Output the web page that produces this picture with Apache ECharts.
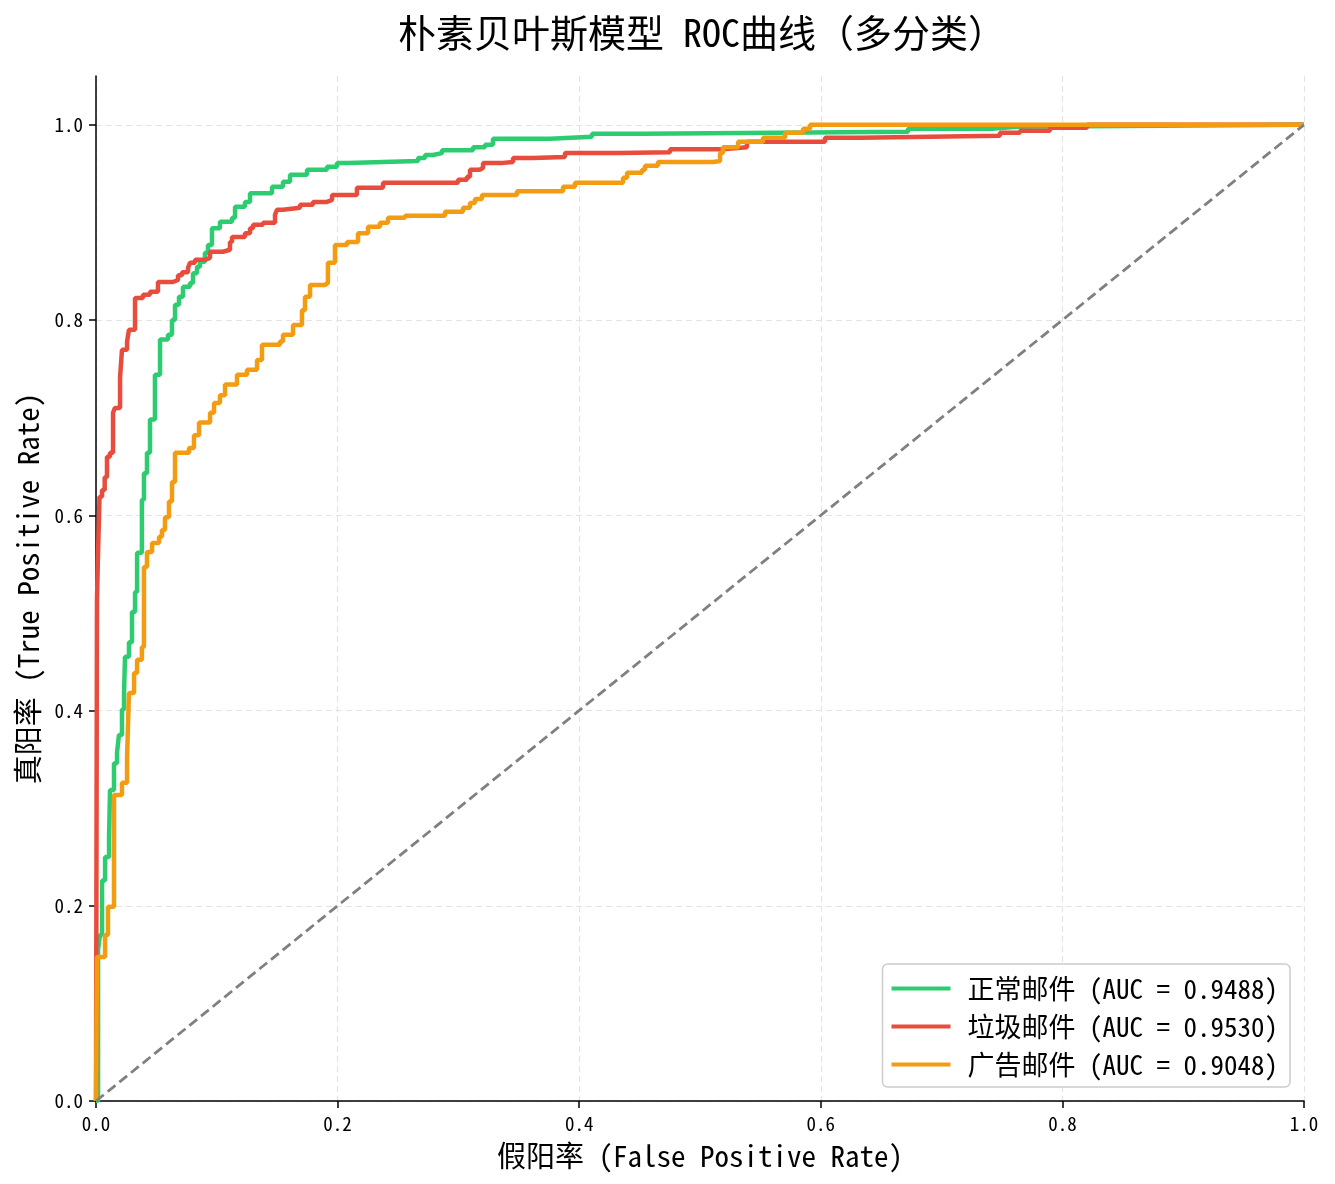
<!DOCTYPE html>
<html>
<head>
<meta charset="utf-8">
<script src="https://cdn.jsdelivr.net/npm/echarts@6/dist/echarts.min.js"></script>
<style>
  html, body { margin: 0; padding: 0; background: #fff; }
  #chart { width: 1335px; height: 1184px; }
</style>
</head>
<body>
<div id="chart"></div>
<script>
var FONT = "'Noto Sans Mono CJK SC', 'Noto Sans CJK SC', sans-serif";

// 各类别名称与 AUC
var classNames = ['正常邮件', '垃圾邮件', '广告邮件'];
var aucValues = [0.9488, 0.9530, 0.9048];
var lineColors = ['#2ecc71', '#e74c3c', '#f39c12'];

// ROC 阶梯点 [fpr, tpr]（在 fpr 处跳到 tpr）
var rocNormal = [
  [0, 0], [0.0017, 0.155], [0.0033, 0.17], [0.005, 0.226], [0.0075, 0.25], [0.0108, 0.27],
  [0.0116, 0.3186], [0.0149, 0.346], [0.0174, 0.357], [0.019, 0.375], [0.0215, 0.401],
  [0.0232, 0.418], [0.024, 0.455], [0.0273, 0.47], [0.0298, 0.501], [0.0323, 0.5215],
  [0.034, 0.5615], [0.038, 0.616], [0.0397, 0.643], [0.0422, 0.664], [0.0447, 0.698],
  [0.0488, 0.744], [0.053, 0.78], [0.0596, 0.785], [0.0629, 0.8], [0.0654, 0.8156],
  [0.0687, 0.8238], [0.072, 0.834], [0.0778, 0.838], [0.0803, 0.848], [0.0836, 0.8545],
  [0.0861, 0.8596], [0.0902, 0.869], [0.0927, 0.877], [0.096, 0.894], [0.1026, 0.9006],
  [0.1126, 0.9047], [0.1151, 0.916], [0.1233, 0.921], [0.1275, 0.93], [0.1457, 0.9365],
  [0.1548, 0.9416], [0.1606, 0.9488], [0.1747, 0.954], [0.1912, 0.957], [0.1995, 0.961],
  [0.2086, 0.963], [0.2666, 0.966], [0.2724, 0.969], [0.279, 0.971], [0.2864, 0.974],
  [0.3121, 0.977], [0.322, 0.9795], [0.3286, 0.9857], [0.3758, 0.9877], [0.4106, 0.9908],
  [0.4528, 0.9928], [0.6722, 0.996], [0.7417, 0.998], [0.7624, 1.0], [1, 1]
];
var rocSpam = [
  [0, 0], [0.0008, 0.513], [0.0017, 0.5615], [0.0029, 0.619], [0.005, 0.626], [0.0072, 0.639],
  [0.0091, 0.66], [0.0116, 0.664], [0.0141, 0.705], [0.0157, 0.71], [0.0199, 0.741],
  [0.0215, 0.7695], [0.0257, 0.778], [0.0273, 0.79], [0.0323, 0.8227], [0.0389, 0.826],
  [0.0447, 0.829], [0.0513, 0.839], [0.0637, 0.841], [0.0679, 0.846], [0.0712, 0.849],
  [0.0762, 0.8535], [0.0778, 0.8586], [0.082, 0.8617], [0.0902, 0.8637], [0.0944, 0.87],
  [0.1051, 0.872], [0.1109, 0.88], [0.1126, 0.885], [0.1233, 0.889], [0.1275, 0.894],
  [0.13, 0.8975], [0.1382, 0.8996], [0.1482, 0.9078], [0.1498, 0.913], [0.1548, 0.915],
  [0.1689, 0.918], [0.1796, 0.921], [0.1912, 0.923], [0.1954, 0.928], [0.216, 0.9355],
  [0.2376, 0.9406], [0.2997, 0.9436], [0.3071, 0.9467], [0.3096, 0.954], [0.3179, 0.956],
  [0.3204, 0.961], [0.3369, 0.962], [0.3452, 0.966], [0.3618, 0.967], [0.3882, 0.971],
  [0.4338, 0.972], [0.4752, 0.975], [0.519, 0.977], [0.5389, 0.9826], [0.6035, 0.9867],
  [0.6325, 0.9887], [0.7483, 0.9918], [0.7649, 0.9939], [0.7897, 0.997], [0.8204, 1.0], [1, 1]
];
var rocAds = [
  [0, 0], [0.0008, 0.1475], [0.0075, 0.17], [0.0099, 0.199], [0.0149, 0.3135], [0.0215, 0.326],
  [0.0257, 0.352], [0.0273, 0.418], [0.0315, 0.4385], [0.034, 0.452], [0.038, 0.465],
  [0.0397, 0.547], [0.0422, 0.5625], [0.0464, 0.5717], [0.0522, 0.578], [0.0546, 0.585],
  [0.0571, 0.598], [0.0604, 0.614], [0.0629, 0.634], [0.0654, 0.664], [0.077, 0.669],
  [0.0811, 0.682], [0.0853, 0.695], [0.0944, 0.705], [0.0977, 0.715], [0.1026, 0.723],
  [0.1068, 0.734], [0.1167, 0.744], [0.125, 0.749], [0.1333, 0.759], [0.1374, 0.7746],
  [0.1523, 0.778], [0.1548, 0.785], [0.1631, 0.795], [0.1705, 0.81], [0.173, 0.8238],
  [0.1772, 0.836], [0.1896, 0.838], [0.192, 0.8586], [0.1978, 0.877], [0.2078, 0.88],
  [0.2169, 0.889], [0.2252, 0.8955], [0.2351, 0.8996], [0.2417, 0.9047], [0.2558, 0.9068],
  [0.2889, 0.911], [0.3038, 0.915], [0.3096, 0.92], [0.3137, 0.924], [0.3195, 0.928],
  [0.3485, 0.932], [0.3866, 0.9365], [0.3965, 0.9406], [0.4363, 0.9457], [0.4396, 0.951],
  [0.452, 0.954], [0.4545, 0.958], [0.4652, 0.962], [0.5108, 0.963], [0.5166, 0.971],
  [0.519, 0.977], [0.5315, 0.9826], [0.5522, 0.9867], [0.5704, 0.9918], [0.5853, 0.996],
  [0.5911, 1.0], [1, 1]
];
var rocCurves = [rocNormal, rocSpam, rocAds];

// 随机猜测对角线
var diagonal = [[0, 0], [1, 1]];

// 坐标刻度
var tickValues = [0, 0.2, 0.4, 0.6, 0.8, 1.0];

var chart = echarts.init(document.getElementById('chart'));

var legendNames = classNames.map(function(n, i) {
  return n + ' (AUC = ' + aucValues[i].toFixed(4) + ')';
});

var series = rocCurves.map(function(d, i) {
  return {
    name: legendNames[i],
    type: 'line',
    step: 'end',
    data: d,
    showSymbol: false,
    symbol: 'none',
    lineStyle: { color: lineColors[i], width: 4.5 },
    itemStyle: { color: lineColors[i] },
    z: 2 + i
  };
});
series.push({
  name: 'diag',
  type: 'line',
  data: diagonal,
  showSymbol: false,
  symbol: 'none',
  lineStyle: { color: '#808080', width: 2.8, type: [10, 5] },
  z: 6
});

var axisLabelStyle = {
  fontFamily: FONT, fontSize: 19, color: '#000', margin: 13,
  formatter: function(v) { return v.toFixed(1); }
};
var splitStyle = { show: true, lineStyle: { color: '#e4e4e4', width: 1.2, type: [6, 4] } };

var option = {
  backgroundColor: '#fff',
  animation: false,
  title: {
    text: '朴素贝叶斯模型 ROC曲线（多分类）',
    left: 697, top: 9, textAlign: 'center',
    textStyle: { fontFamily: FONT, fontSize: 38, fontWeight: 'normal', color: '#000' }
  },
  grid: { left: 96, right: 31, top: 76, bottom: 83, containLabel: false },
  legend: {
    data: legendNames,
    orient: 'vertical',
    right: 45, bottom: 97,
    icon: 'rect', itemWidth: 59, itemHeight: 4, itemGap: 11,
    padding: [11, 12, 9, 9],
    backgroundColor: 'rgba(255,255,255,0.85)',
    borderColor: '#cccccc', borderWidth: 1.5, borderRadius: 5,
    textStyle: { fontFamily: FONT, fontSize: 27, color: '#000', padding: [0, 0, 0, 12] }
  },
  xAxis: {
    type: 'value', min: 0, max: 1, interval: 0.2,
    name: '假阳率 (False Positive Rate)', nameLocation: 'middle', nameGap: 40,
    nameTextStyle: { fontFamily: FONT, fontSize: 29, color: '#000' },
    axisLine: { show: true, lineStyle: { color: '#000', width: 1.5 } },
    axisTick: { show: true, length: 7, lineStyle: { color: '#000', width: 1.5 } },
    axisLabel: axisLabelStyle,
    splitLine: splitStyle
  },
  yAxis: {
    type: 'value', min: 0, max: 1.05, interval: 0.2,
    name: '真阳率 (True Positive Rate)', nameLocation: 'middle', nameGap: 54,
    nameTextStyle: { fontFamily: FONT, fontSize: 29, color: '#000' },
    axisLine: { show: true, lineStyle: { color: '#000', width: 1.5 } },
    axisTick: { show: true, length: 7, lineStyle: { color: '#000', width: 1.5 }, customValues: tickValues },
    axisLabel: Object.assign({}, axisLabelStyle, { customValues: tickValues }),
    splitLine: splitStyle
  },
  series: series
};

chart.setOption(option);
</script>
</body>
</html>
